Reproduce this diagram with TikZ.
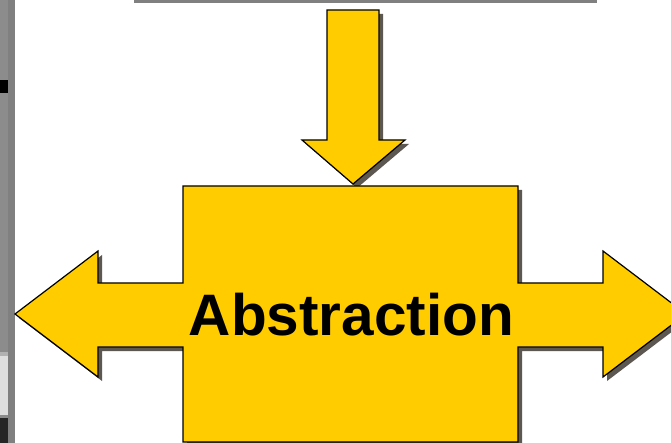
\documentclass[tikz,border=0pt]{standalone}
\usepackage{fontspec}
\setmainfont{Liberation Sans}
\definecolor{arrowyellow}{RGB}{255,204,0}
\definecolor{shadowgray}{RGB}{92,87,80}
\definecolor{stripgray}{RGB}{128,128,128}
\definecolor{stripgraylight}{RGB}{140,140,140}
\begin{document}
\begin{tikzpicture}[x=1pt,y=-1pt,
  shapefill/.style={fill=arrowyellow,draw=black,line width=1.2pt,line join=miter},
  shadowfill/.style={fill=shadowgray,draw=none},
  label/.style={font=\bfseries\fontsize{58.5}{60}\selectfont,text=black,inner sep=0pt}]
\useasboundingbox (0,0) rectangle (671,443);
\clip (0,0) rectangle (671,443);
\fill[white] (0,0) rectangle (671,443);
% left strip
\fill[stripgraylight] (0,0) rectangle (8,443);
\fill[stripgray] (8,0) rectangle (15,443);
\fill[black] (0,80) rectangle (8,93);
\fill[gray!60] (0,352) rectangle (8,356);
\fill[gray!25] (0,356) rectangle (8,415);
\fill[black!85] (0,418) rectangle (8,443);
% top line
\fill[stripgray] (134,0) rectangle (597,3);
% shadows
\begin{scope}[shift={(4,4)}]
\fill[shadowgray] (327,10) -- (379,10) -- (379,140) -- (405,140) -- (353,184) -- (302,140) -- (327,140) -- cycle;
\fill[shadowgray] (183,186) -- (518,186) -- (518,283) -- (603,283) -- (603,251) -- (686,314) -- (603,377) -- (603,347) -- (518,347) -- (518,442) -- (183,442) -- (183,347) -- (98,347) -- (98,377) -- (15,314) -- (98,251) -- (98,283) -- (183,283) -- cycle;
\end{scope}
% down arrow
\draw[shapefill] (327,10) -- (379,10) -- (379,140) -- (405,140) -- (353,184) -- (302,140) -- (327,140) -- cycle;
% box with side arrows
\draw[shapefill] (183,186) -- (518,186) -- (518,283) -- (603,283) -- (603,251) -- (686,314) -- (603,377) -- (603,347) -- (518,347) -- (518,442) -- (183,442) -- (183,347) -- (98,347) -- (98,377) -- (15,314) -- (98,251) -- (98,283) -- (183,283) -- cycle;
\node[label,anchor=base] (abs) at (351.5,335) {Abstraction};
\end{tikzpicture}
\end{document}
